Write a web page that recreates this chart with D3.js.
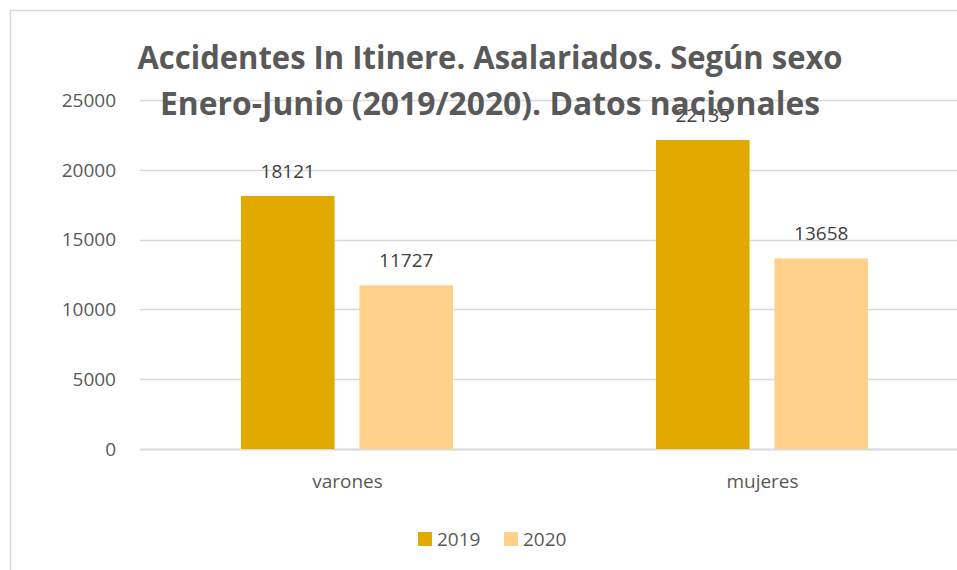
<!DOCTYPE html>
<html>
<head>
<meta charset="utf-8">
<script src="https://cdn.jsdelivr.net/npm/d3@7"></script>
<style>
  body { margin: 0; background: #fff; }
  text { font-family: "Open Sans", sans-serif; }
</style>
</head>
<body>
<svg width="957" height="570"></svg>
<script>
var categories = ["varones", "mujeres"];
var seriesNames = ["2019", "2020"];
var values2019 = [18121, 22135];
var values2020 = [11727, 13658];
var yTicks = [0, 5000, 10000, 15000, 20000, 25000];
var titleLines = ["Accidentes In Itinere. Asalariados. Según sexo", "Enero-Junio (2019/2020). Datos nacionales"];

var svg = d3.select("svg")
    , colors = ["#e2aa00", "#ffd18a"];

// chart frame (cropped on right/bottom)
svg.append("path")
    .attr("d", "M10.5,570 L10.5,10.5 L957,10.5")
    .attr("fill", "none").attr("stroke", "#d9d9d9").attr("stroke-width", 1.5);

var x = d3.scaleBand().domain(categories).range([140, 970]);
var xs = d3.scaleBand().domain(seriesNames).range([101, 313]).paddingInner(0.21);
var y = d3.scaleLinear().domain([0, 25000]).range([449, 100]);

// gridlines
svg.append("g").selectAll("line").data(yTicks).enter().append("line")
    .attr("x1", 140).attr("x2", 957)
    .attr("y1", function (d) { return Math.round(y(d)) + 0.5; })
    .attr("y2", function (d) { return Math.round(y(d)) + 0.5; })
    .attr("stroke", "#d9d9d9").attr("stroke-width", function (d) { return d === 0 ? 2 : 1.5; });

// y labels
svg.append("g").selectAll("text").data(yTicks).enter().append("text")
    .attr("x", 116).attr("y", function (d) { return y(d); })
    .attr("dy", "0.36em").attr("text-anchor", "end")
    .attr("font-size", 19).attr("fill", "#595959")
    .text(function (d) { return d; });

// bars
var data = categories.map(function (c, i) {
    return { cat: c, vals: [{ s: "2019", v: values2019[i] }, { s: "2020", v: values2020[i] }] };
});
var grp = svg.append("g").selectAll("g").data(data).enter().append("g")
    .attr("transform", function (d) { return "translate(" + x(d.cat) + ",0)"; });
grp.selectAll("rect").data(function (d) { return d.vals; }).enter().append("rect")
    .attr("x", function (d) { return xs(d.s); })
    .attr("width", xs.bandwidth())
    .attr("y", function (d) { return y(d.v); })
    .attr("height", function (d) { return y(0) - y(d.v); })
    .attr("fill", function (d, i) { return colors[i]; });

// title
svg.append("g").selectAll("text").data(titleLines).enter().append("text")
    .attr("x", 490).attr("y", function (d, i) { return 69 + i * 46; })
    .attr("text-anchor", "middle").attr("font-weight", "bold")
    .attr("font-size", 33).attr("fill", "#595959")
    .attr("textLength", function (d, i) { return i === 0 ? 705 : 660; })
    .attr("lengthAdjust", "spacingAndGlyphs")
    .text(function (d) { return d; });

// data labels
grp.selectAll("text.lbl").data(function (d) { return d.vals; }).enter().append("text")
    .attr("class", "lbl")
    .attr("x", function (d) { return xs(d.s) + xs.bandwidth() / 2; })
    .attr("y", function (d) { return y(d.v) - 18; })
    .attr("text-anchor", "middle").attr("font-size", 19).attr("fill", "#404040")
    .text(function (d) { return d.v; });

// category labels
svg.append("g").selectAll("text").data(categories).enter().append("text")
    .attr("x", function (d) { return x(d) + x.bandwidth() / 2; })
    .attr("y", 488).attr("text-anchor", "middle")
    .attr("font-size", 19).attr("fill", "#595959")
    .text(function (d) { return d; });

// legend
var leg = svg.append("g").selectAll("g").data(seriesNames).enter().append("g")
    .attr("transform", function (d, i) { return "translate(" + (418 + i * 86) + ",532)"; });
leg.append("rect").attr("width", 14).attr("height", 14)
    .attr("fill", function (d, i) { return colors[i]; });
leg.append("text").attr("x", 19).attr("y", 14)
    .attr("font-size", 19).attr("fill", "#595959")
    .text(function (d) { return d; });
</script>
</body>
</html>
